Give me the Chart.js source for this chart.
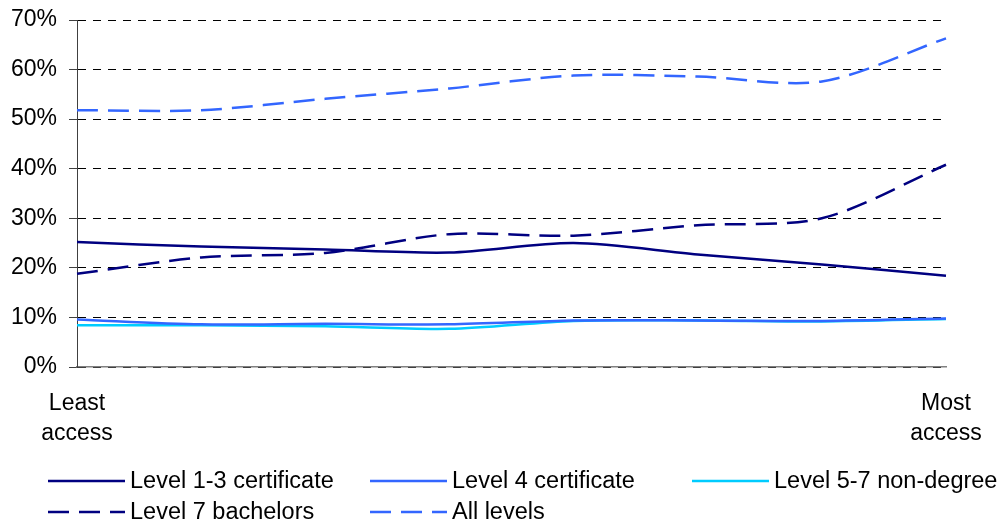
<!DOCTYPE html>
<html>
<head>
<meta charset="utf-8">
<script src="https://cdn.jsdelivr.net/npm/chart.js@4.4.1/dist/chart.umd.min.js"></script>
<style>
  html, body { margin: 0; padding: 0; background: #fff; }
  #wrap { width: 1002px; height: 525px; position: relative; }
</style>
</head>
<body>
<div id="wrap"><canvas id="grafico"></canvas></div>
<script>
// =============================
// DATA
// =============================
const categorias = [["Least", "access"], "", "", "", "", "", "", ["Most", "access"]];
const nivel13 = [25.2, 24.3, 23.7, 23.1, 25.0, 22.7, 20.7, 18.4];
const nivel4 = [9.6, 8.6, 8.7, 8.6, 9.4, 9.4, 9.3, 9.8];
const nivel57 = [8.4, 8.4, 8.2, 7.7, 9.3, 9.4, 9.2, 9.7];
const nivel7 = [18.8, 22.1, 23.0, 26.8, 26.5, 28.6, 30.0, 40.8];
const todos = [51.8, 51.8, 54.1, 56.2, 58.8, 58.6, 57.6, 66.3];

const nombres = [
  "Level 1-3 certificate", "Level 4 certificate", "Level 5-7 non-degree",
  "Level 7 bachelors", "All levels"
];

const FONT = "'Liberation Sans', Arial, sans-serif";
const DASH = [21, 10];

function serie(label, data, color, dash) {
  return {
    label, data,
    borderColor: color,
    backgroundColor: color,
    borderWidth: 2.5,
    borderDash: dash || [],
    pointRadius: 0,
    tension: 0.3,
    fill: false
  };
}

// =============================
// LEGEND (grid 3 columns)
// =============================
const leyendaGrid = {
  id: "leyendaGrid",
  afterDraw(chart) {
    const ctx = chart.ctx;
    ctx.save();
    ctx.font = "23.5px " + FONT;
    ctx.textBaseline = "middle";
    chart.data.datasets.forEach((ds, i) => {
      const col = i % 3;
      const row = Math.floor(i / 3);
      const x = 48 + col * 322;
      const y = 481 + row * 31;
      ctx.strokeStyle = ds.borderColor;
      ctx.lineWidth = 2.5;
      ctx.setLineDash(ds.borderDash);
      ctx.beginPath();
      ctx.moveTo(x, y);
      ctx.lineTo(x + 77, y);
      ctx.stroke();
      ctx.setLineDash([]);
      ctx.fillStyle = "#000";
      ctx.fillText(ds.label, x + 82, y + 1);
    });
    ctx.restore();
  }
};

// =============================
// CHART
// =============================
new Chart(document.getElementById("grafico"), {
  type: "line",
  data: {
    labels: categorias,
    datasets: [
      serie(nombres[0], nivel13, "#000080"),
      serie(nombres[1], nivel4, "#3366FF"),
      serie(nombres[2], nivel57, "#00CCFF"),
      serie(nombres[3], nivel7, "#000080", DASH),
      serie(nombres[4], todos, "#3366FF", DASH)
    ]
  },
  options: {
    responsive: true,
    maintainAspectRatio: false,
    animation: false,
    layout: { padding: { top: 20, right: 56, bottom: 68, left: 0 } },
    plugins: {
      legend: { display: false },
      tooltip: { enabled: false }
    },
    scales: {
      x: {
        grid: { display: false },
        border: { display: true, color: "#808080", width: 1.5 },
        ticks: {
          autoSkip: false,
          maxRotation: 0,
          padding: 14,
          color: "#000",
          font: { family: FONT, size: 23, lineHeight: 1.3 }
        },
        afterFit(scale) { scale.height = 90; scale.paddingLeft = 0; scale.paddingRight = 0; }
      },
      y: {
        min: 0,
        max: 70,
        grid: {
          color: "#000",
          lineWidth: 1,
          tickLength: 8,
          tickColor: "#404040",
          tickBorderDash: []
        },
        border: { display: true, color: "#404040", width: 1, dash: [8, 7] },
        ticks: {
          stepSize: 10,
          padding: 12,
          color: "#000",
          font: { family: FONT, size: 23 },
          callback: v => v + "%"
        },
        afterFit(scale) { scale.width = 77; scale.paddingTop = 0; scale.paddingBottom = 0; }
      }
    }
  },
  plugins: [leyendaGrid]
});
</script>
</body>
</html>
